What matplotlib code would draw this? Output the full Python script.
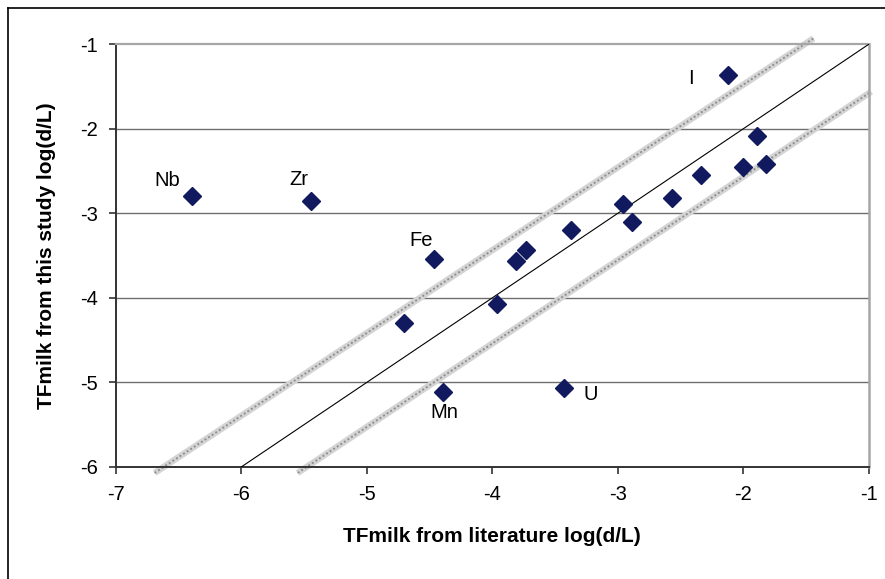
import matplotlib
matplotlib.use("Agg")
import matplotlib.pyplot as plt
from matplotlib.lines import Line2D

plt.rcParams["font.family"] = ["Liberation Sans", "DejaVu Sans"]
plt.rcParams["axes.unicode_minus"] = False

# transfer factors, log(d/L)
lit_tf = [-6.39, -5.44, -4.46, -2.12, -1.89, -2.00, -1.82, -2.34, -2.57,
          -2.96, -2.89, -3.37, -3.73, -3.81, -3.96, -4.70, -4.39, -3.43]
study_tf = [-2.79, -2.85, -3.54, -1.36, -2.08, -2.45, -2.41, -2.55, -2.82,
            -2.89, -3.10, -3.20, -3.43, -3.56, -4.07, -4.30, -5.11, -5.06]

# labelled outliers: element, index into the arrays above
labelled = ["Nb", "Zr", "Fe", "I", "Mn", "U"]
labelled_idx = [0, 1, 2, 3, 16, 17]
label_offsets = [(-25, 15), (-13, 21), (-13, 19), (-37, -4), (1, -21), (27, -7)]

# 1:1 line and the band around it
one_to_one = ([-6, -1], [-6, -1])
band_upper = ([-6.69, -1.44], [-6.07, -0.93])
band_lower = ([-5.55, -0.98], [-6.07, -1.56])

W, H = 885, 579
fig = plt.figure(figsize=(W / 100, H / 100), dpi=100)
ax = fig.add_axes([115.7 / W, 1 - 467 / H, (868.7 - 115.7) / W, (467 - 44.3) / H])

ax.set_xlim(-7, -1)
ax.set_ylim(-6, -1)
ax.set_xticks(range(-7, 0))
ax.set_yticks(range(-6, 0))

for y in range(-5, -1):
    ax.axhline(y, color="#6e6e6e", lw=1.0, zorder=1)

ax.spines["top"].set_color("#a6a6a6")
ax.spines["top"].set_linewidth(1.6)
ax.spines["right"].set_color("#a6a6a6")
ax.spines["right"].set_linewidth(1.8)
ax.spines["left"].set_color("#333333")
ax.spines["left"].set_linewidth(1.4)
ax.spines["bottom"].set_color("#333333")
ax.spines["bottom"].set_linewidth(1.4)

ax.tick_params(axis="both", direction="out", length=5, width=1.2,
               color="#333333", labelsize=14.5, pad=8)

for xs, ys in (band_upper, band_lower):
    ax.plot(xs, ys, color="#d4d4d4", lw=4.6, solid_capstyle="butt",
            clip_on=False, zorder=2)
    ax.plot(xs, ys, color="#8f8f8f", lw=1.4, ls=(0, (1, 1.2)),
            clip_on=False, zorder=2)

ax.plot(*one_to_one, color="black", lw=0.8, zorder=3)

ax.plot(lit_tf, study_tf, ls="none", marker="D", ms=9.5,
        color="#111a5e", mec="#111a5e", zorder=4)

for name, i, (dx, dy) in zip(labelled, labelled_idx, label_offsets):
    ax.annotate(name, (lit_tf[i], study_tf[i]), xytext=(dx * 0.72, dy * 0.72),
                textcoords="offset points", ha="center", va="center",
                fontsize=14.5)

ax.set_xlabel("TFmilk from literature log(d/L)", fontsize=15,
              fontweight="bold", va="center")
ax.set_ylabel("TFmilk from this study log(d/L)", fontsize=15,
              fontweight="bold", va="center")
ax.xaxis.set_label_coords(0.5, (467 - 537) / (467 - 44.3))
ax.yaxis.set_label_coords((47 - 115.7) / (868.7 - 115.7), 0.5)

# outer chart frame (top and left edges)
fig.add_artist(Line2D([8 / W, 1], [1 - 8 / H, 1 - 8 / H], color="black", lw=1.2))
fig.add_artist(Line2D([8 / W, 8 / W], [0, 1 - 8 / H], color="black", lw=1.2))

fig.savefig("out.png", dpi=100, facecolor="white")
